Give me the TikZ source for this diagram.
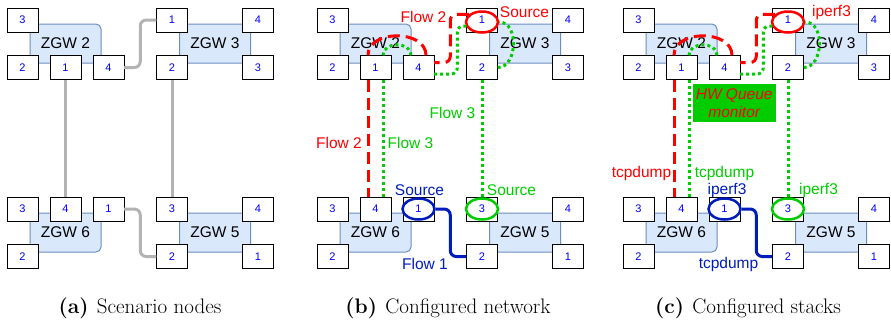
\documentclass[tikz,border=0pt]{standalone}
\usepackage{fontspec}
\newfontfamily\netfont{Liberation Sans}
\usepackage{tikz}
\usetikzlibrary{
  calc,%
  % ellipse for the source rings
  shapes.geometric,%
  positioning
}

\definecolor{zgwfill}{HTML}{DAE8FC}
\definecolor{zgwline}{HTML}{6C8EBF}
\definecolor{linkgray}{HTML}{B3B3B3}
\definecolor{flowred}{HTML}{FF0000}
\definecolor{flowgreen}{HTML}{00CC00}
\definecolor{flowblue}{HTML}{001DBC}
\definecolor{portblue}{HTML}{0000FF}

\tikzset{>=latex}
\tikzset{
  zgwbody/.style={draw=zgwline, line width=1pt, fill=zgwfill, rounded corners=5pt,
    minimum width=71pt, minimum height=39pt, inner sep=0pt,
    font=\netfont\fontsize{15.5}{18}\selectfont},
  zgwport/.style={draw, fill=white, minimum width=31pt, minimum height=24pt,
    inner sep=0pt, text=portblue, font=\netfont\fontsize{11}{13}\selectfont},
  netlink/.style={draw=linkgray, line width=3pt, rounded corners=6pt},
  redflow/.style={draw=flowred, line width=3pt, rounded corners=6pt,
    dash pattern=on 12pt off 6pt},
  greenflow/.style={draw=flowgreen, line width=3pt, rounded corners=6pt,
    dash pattern=on 3pt off 3pt},
  blueflow/.style={draw=flowblue, line width=3pt, rounded corners=6pt},
  ring/.style={ellipse, draw=#1, line width=2.5pt, minimum width=32pt,
    minimum height=21pt, inner sep=0pt},
  flowlbl/.style={inner sep=1pt, font=\netfont\fontsize{15.5}{18}\selectfont},
  hwbox/.style={fill=flowgreen, text=flowred, align=center, inner sep=0pt,
    minimum width=83pt, minimum height=38pt,
    font=\netfont\itshape\fontsize{15.5}{17.5}\selectfont},
  subcap/.style={font=\fontsize{21}{24}\selectfont}
}

\begin{document}
\begin{tikzpicture}[x=1pt,y=-1pt]
  \useasboundingbox (0,0) rectangle (891,322);

  % the same four gateways in every panel
  \foreach \p/\ox in {a/0,b/310,c/616}{
    \begin{scope}[xshift=\ox]
      \node[zgwbody] (\p2) at (65.5,43.5) {ZGW 2};
      \node[zgwbody] (\p3) at (215,43.5) {ZGW 3};
      \node[zgwbody] (\p6) at (65.5,232.5) {ZGW 6};
      \node[zgwbody] (\p5) at (215,232.5) {ZGW 5};
      % ports around each gateway: gateway/port/dx/dy
      \foreach \g/\n/\dx/\dy in {2/3/-43/-23.5, 2/2/-43/24, 2/1/0/24, 2/4/43/24,
                                 3/1/-43/-23.5, 3/4/43/-23.5, 3/2/-43/24, 3/3/43/24,
                                 6/3/-43/-23.5, 6/4/0/-23.5, 6/1/43/-23.5, 6/2/-43/24,
                                 5/3/-43/-23.5, 5/4/43/-23.5, 5/2/-43/24, 5/1/43/24}
        \node[zgwport] (\p\g-\n) at ([shift={(\dx,\dy)}]\p\g.center) {\n};
    \end{scope}
  }

  % (a) cabling between the gateways
  \coordinate (a-mid) at ($(a2-4.east)!.5!(a3-1.west)$);
  \coordinate (a-low) at ($(a6-1.east)!.5!(a5-2.west)$);
  \draw[netlink] (a2-4.east) -| (a-mid) |- (a3-1.west);
  \draw[netlink] (a2-1) -- (a6-4);
  \draw[netlink] (a3-2) -- (a5-3);
  \draw[netlink] (a6-1.east) -| (a-low) |- (a5-2.west);

  % (b), (c) the three flows
  \foreach \p in {b,c}{
    \coordinate (\p-mid) at ($(\p2-4.east)!.5!(\p3-1.west)$);
    \coordinate (\p-low) at ($(\p6-1.east)!.5!(\p5-2.west)$);
    \node[ring=flowred] (\p3-1s) at ([yshift=-2pt]\p3-1.center) {};
    \node[ring=flowblue] (\p6-1s) at (\p6-1.center) {};
    \node[ring=flowgreen] (\p5-3s) at (\p5-3.center) {};
    % flow 2
    \draw[redflow] (\p3-1s.150) -| (\p-mid) |- ([yshift=5pt]\p2-4.east);
    \draw[redflow] ([xshift=7.5pt]\p2-4.north)
      .. controls +(0,-26) and +(0,-26) .. ([xshift=-7.5pt]\p2-1.north);
    \draw[redflow] ([xshift=-7.5pt]\p2-1.south) -- ([xshift=-7.5pt]\p6-4.north);
    % flow 3
    \draw[greenflow] (\p5-3s) -- (\p3-2);
    \draw[greenflow] (\p3-2.east) .. controls +(20,0) and +(20,0) .. (\p3-1s.east);
    \draw[greenflow] ([yshift=-6pt]\p3-1.west) -| ([xshift=7pt]\p-mid)
      |- ([yshift=-6.5pt]\p2-4.east);
    \draw[greenflow] ([xshift=-7.5pt]\p2-4.north)
      .. controls +(0,-14) and +(0,-14) .. ([xshift=7.5pt]\p2-1.north);
    \draw[greenflow] ([xshift=7.5pt]\p2-1.south) -- ([xshift=7.5pt]\p6-4.north);
    % flow 1
    \draw[blueflow] (\p6-1s.east) -| (\p-low) |- (\p5-2.west);
  }

  % (b) labels
  \begin{scope}[xshift=310]
    \node[flowlbl, text=flowred] (b-f2top) at (113.5,17) {Flow 2};
    \node[flowlbl, text=flowred] (b-src2) at (214.5,12) {Source};
    \node[flowlbl, text=flowred] (b-f2) at (29,143) {Flow 2};
    \node[flowlbl, text=flowgreen] (b-f3) at (100.5,143) {Flow 3};
    \node[flowlbl, text=flowgreen] (b-f3top) at (142.5,113) {Flow 3};
    \node[flowlbl, text=flowblue] (b-src1) at (109.5,190) {Source};
    \node[flowlbl, text=flowgreen] (b-src3) at (201.5,190) {Source};
    \node[flowlbl, text=flowblue] (b-f1) at (115,264) {Flow 1};
  \end{scope}

  % (c) labels
  \begin{scope}[xshift=616]
    \node[flowlbl, text=flowred] (c-ip2) at (215.5,12.5) {iperf3};
    \node[flowlbl, text=flowred] (c-td2) at (25.5,173) {tcpdump};
    \node[flowlbl, text=flowgreen] (c-td3) at (108.5,173) {tcpdump};
    \node[flowlbl, text=flowblue] (c-ip1) at (111,190) {iperf3};
    \node[flowlbl, text=flowgreen] (c-ip3) at (202.5,190) {iperf3};
    \node[flowlbl, text=flowblue] (c-td1) at (112.5,264) {tcpdump};
    \node[hwbox] (c-hwq) at (118.2,103) {HW Queue\\monitor};
  \end{scope}

  % sub-captions
  \node[subcap] (a-cap) at (140,308) {\textbf{(a)}\hspace{.4em}Scenario nodes};
  \node[subcap] (b-cap) at (448,308) {\textbf{(b)}\hspace{.4em}Configured network};
  \node[subcap] (c-cap) at (748,308) {\textbf{(c)}\hspace{.4em}Configured stacks};
\end{tikzpicture}
\end{document}
